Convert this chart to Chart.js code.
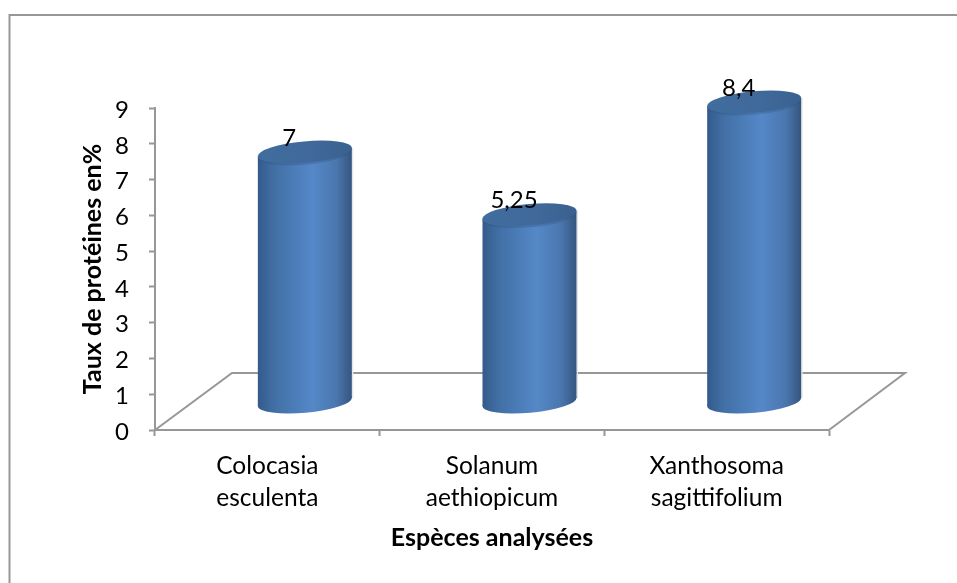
<!DOCTYPE html>
<html><head><meta charset="utf-8">
<style>html,body{margin:0;padding:0;background:#fff}canvas{display:block}</style>
<script src="https://cdn.jsdelivr.net/npm/chart.js@4"></script>
</head><body><canvas id="c" width="957" height="583"></canvas>
<script>
const categories = [["Colocasia","esculenta"],["Solanum","aethiopicum"],["Xanthosoma","sagittifolium"]];
const proteinValues = [7, 5.25, 8.4];
const yTitle = "Taux de protéines en%";
const xTitle = "Espèces analysées";
const FONT = "Lato";
const GREY = "#979797";
const DX = 37.5, DY = -27.5, RX = 47.2, RY = 10.7, ROT = -5.13*Math.PI/180, EX = 47, EYO = 4;

const cyl3d = {
  id:'cyl3d',
  beforeDraw(chart){
    const c = chart.ctx; c.save();
    c.fillStyle='#fff'; c.fillRect(0,0,chart.width,chart.height);
    c.strokeStyle=GREY; c.lineWidth=2;
    c.beginPath(); c.moveTo(9.5,chart.height); c.lineTo(9.5,15); c.lineTo(chart.width,15); c.stroke();
    c.restore();
  },
  beforeDatasetsDraw(chart){
    const {left,right,bottom} = chart.chartArea, c = chart.ctx;
    c.save(); c.strokeStyle=GREY; c.lineWidth=2; c.lineJoin='miter';
    c.beginPath(); c.moveTo(left,bottom); c.lineTo(left+77,bottom-57); c.lineTo(right+76,bottom-57); c.lineTo(right,bottom); c.stroke();
    c.restore();
  },
  beforeDatasetDraw(chart,args){
    const c = chart.ctx;
    args.meta.data.forEach(el=>{
      const cx = el.x+DX, ty = el.y+DY, by = el.base+DY;
      const g = c.createLinearGradient(cx-EX,0,cx+EX,0);
      g.addColorStop(0,'#345a8b'); g.addColorStop(.18,'#4270a6'); g.addColorStop(.58,'#5588c8');
      g.addColorStop(.84,'#4a76ad'); g.addColorStop(1,'#35557f');
      c.save();
      c.fillStyle='#e4e6ea';
      c.fillRect(cx+EX,ty-EYO,1.5,by-ty);
      c.fillStyle=g;
      c.beginPath(); c.ellipse(cx,by,RX,RY,ROT,0,Math.PI*2); c.fill();
      c.beginPath(); c.moveTo(cx-EX,ty+EYO); c.lineTo(cx-EX,by+EYO); c.lineTo(cx+EX,by-EYO); c.lineTo(cx+EX,ty-EYO); c.closePath(); c.fill();
      c.beginPath(); c.ellipse(cx,ty+2,RX,RY,ROT,0,Math.PI*2); c.fillStyle='rgba(50,85,130,.35)'; c.fill();
      const t = c.createLinearGradient(cx-EX,0,cx+EX,0);
      t.addColorStop(0,'#406d9f'); t.addColorStop(.6,'#3f6999'); t.addColorStop(1,'#3a6190');
      c.beginPath(); c.ellipse(cx,ty,RX,RY,ROT,0,Math.PI*2); c.fillStyle=t; c.fill();
      c.restore();
    });
    return false;
  },
  afterDatasetsDraw(chart){
    const c = chart.ctx, meta = chart.getDatasetMeta(0);
    c.save(); c.fillStyle='#000'; c.font='24px '+FONT; c.textAlign='center'; c.textBaseline='middle';
    meta.data.forEach((el,i)=>{
      c.fillText(String(proteinValues[i]).replace('.',','), el.x+22, el.y+DY-14);
    });
    c.restore();
  }
};

new Chart(document.getElementById('c'),{
  type:'bar',
  data:{labels:categories,datasets:[{data:proteinValues,backgroundColor:'#4f81bd'}]},
  options:{
    responsive:false,animation:false,devicePixelRatio:1,
    layout:{padding:{left:0,top:108,right:128,bottom:0}},
    plugins:{legend:{display:false},tooltip:{enabled:false},title:{display:false}},
    scales:{
      x:{
        afterFit(s){s.height=153;},
        grid:{drawOnChartArea:false,tickLength:6,tickColor:GREY,tickWidth:2},
        border:{color:GREY,width:2},
        ticks:{color:'#000',maxRotation:0,padding:15,font:{family:FONT,size:24.5,lineHeight:1.27}},
        title:{display:true,text:xTitle,color:'#000',font:{family:FONT,size:25,weight:'bold',lineHeight:1.2},padding:{top:0,bottom:30}}
      },
      y:{
        min:0,max:9,
        afterFit(s){s.width=155;},
        grid:{drawOnChartArea:false,tickLength:6,tickColor:GREY,tickWidth:2},
        border:{color:GREY,width:2},
        ticks:{color:'#000',stepSize:1,padding:20,labelOffset:2,font:{family:FONT,size:24}},
        title:{display:true,text:yTitle,color:'#000',font:{family:FONT,size:25,weight:'bold',lineHeight:1.2},padding:{top:78,bottom:0}}
      }
    }
  },
  plugins:[cyl3d]
});
</script></body></html>
